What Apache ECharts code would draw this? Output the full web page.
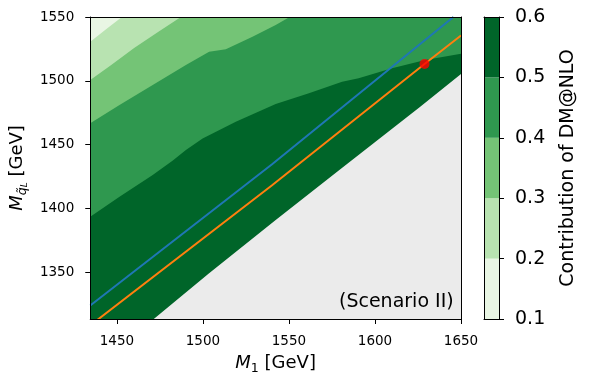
<!DOCTYPE html>
<html>
<head>
<meta charset="utf-8">
<script src="https://cdn.jsdelivr.net/npm/echarts@6/dist/echarts.min.js"></script>
<style>
  html, body { margin: 0; padding: 0; background: #fff; }
  #chart { width: 589px; height: 383px; }
</style>
</head>
<body>
<div id="chart"></div>
<script>
// axis ranges and tick labels
const xRange = [1434.5, 1650];
const yRange = [1313.4, 1550];
const xTicks = [1450, 1500, 1550, 1600, 1650];
const yTicks = [1350, 1400, 1450, 1500, 1550];
const levels = [0.1, 0.2, 0.3, 0.4, 0.5, 0.6];

// contour boundaries [M1, Mq] (area above each line belongs to lower levels)
const edgeKin = [[1434.5, 1274], [1471.6, 1313.6], [1503.4, 1349.1], [1542.3, 1390.9], [1578, 1428.8], [1626.3, 1479.7], [1650, 1505.3]];
const edge05 = [[1434.5, 1393.5], [1451.5, 1409.2], [1470.8, 1426.2], [1482.5, 1437.5], [1490.1, 1445.8], [1499.8, 1454.9], [1519.1, 1468.0], [1542.3, 1481.8], [1561.6, 1490.2], [1580.9, 1499.3], [1590.5, 1502.0], [1609.9, 1509.8], [1629.2, 1516.3], [1650, 1521.2]];
const edge04 = [[1434.5, 1466.7], [1451.5, 1481.0], [1470.8, 1496.7], [1490.1, 1512.4], [1503.6, 1522.8], [1513.3, 1524.7], [1528.8, 1534.6], [1542.3, 1543.7], [1550.4, 1550]];
const edge03 = [[1434.5, 1500.6], [1446.7, 1512.4], [1460.0, 1525.7], [1473.9, 1538.2], [1487.2, 1550]];
const edge02 = [[1434.5, 1530.6], [1443.5, 1540.2], [1452.9, 1550]];

// reference lines and benchmark point
const blueLine = [[1434.5, 1324], [1540, 1434.5], [1645.6, 1550]];
const orangeLine = [[1434.5, 1308.4], [1540, 1418], [1628.8, 1513.2], [1650, 1535.5]];
const benchmark = [[1628.8, 1513.2]];

const bandColors = ['#e9f6e4', '#b8e3b1', '#74c476', '#2f984f', '#006529'];
const font = 'DejaVu Sans';

const chart = echarts.init(document.getElementById('chart'), null, { renderer: 'canvas' });

function band(data, color) {
  return {
    type: 'line', xAxisIndex: 0, yAxisIndex: 0, data: data,
    showSymbol: false, symbol: 'none', silent: true,
    lineStyle: { width: 0 },
    areaStyle: { color: color, opacity: 1, origin: 'end' }
  };
}

const spine = { onZero: false, lineStyle: { color: '#000', width: 1 } };
const tickStyle = { lineStyle: { color: '#000', width: 1 } };
const plain = (v) => String(v);

const option = {
  animation: false,
  backgroundColor: '#fff',
  grid: [
    { left: 89, top: 17, width: 372, height: 302, show: true, backgroundColor: '#ebebeb', borderWidth: 0 },
    { left: 484, top: 17, width: 15, height: 302, show: false }
  ],
  xAxis: [
    {
      gridIndex: 0, type: 'value', min: xRange[0], max: xRange[1], position: 'bottom', z: 10,
      axisLine: spine,
      axisTick: Object.assign({ customValues: xTicks, length: 5 }, tickStyle),
      axisLabel: { customValues: xTicks, color: '#000', fontSize: 13.5, fontFamily: font, margin: 15, formatter: plain },
      splitLine: { show: false },
      name: '{m|M}{s|1}{g| [GeV]}', nameLocation: 'middle', nameGap: 32,
      nameTextStyle: {
        color: '#000', fontFamily: font, fontSize: 18,
        rich: {
          m: { fontSize: 18, fontFamily: font, fontStyle: 'italic', lineHeight: 24, color: '#000' },
          s: { fontSize: 12.6, fontFamily: font, lineHeight: 14, verticalAlign: 'bottom', color: '#000' },
          g: { fontSize: 18, fontFamily: font, lineHeight: 24, color: '#000' }
        }
      }
    },
    {
      gridIndex: 0, type: 'value', min: xRange[0], max: xRange[1], position: 'top', z: 10,
      axisLine: spine, axisTick: { show: false }, axisLabel: { show: false }, splitLine: { show: false }
    },
    {
      gridIndex: 1, type: 'value', min: 0, max: 1, position: 'bottom', z: 10,
      axisLine: spine, axisTick: { show: false }, axisLabel: { show: false }, splitLine: { show: false }
    },
    {
      gridIndex: 1, type: 'value', min: 0, max: 1, position: 'top', z: 10,
      axisLine: spine, axisTick: { show: false }, axisLabel: { show: false }, splitLine: { show: false }
    }
  ],
  yAxis: [
    {
      gridIndex: 0, type: 'value', min: yRange[0], max: yRange[1], position: 'left', z: 10,
      axisLine: spine,
      axisTick: Object.assign({ customValues: yTicks, length: 5 }, tickStyle),
      axisLabel: { customValues: yTicks, color: '#000', fontSize: 13.5, fontFamily: font, margin: 16, formatter: plain },
      splitLine: { show: false },
      name: '{m|M}{s|q̃}{t|L}{g| [GeV]}', nameLocation: 'middle', nameGap: 56, nameRotate: 90,
      nameTextStyle: {
        color: '#000', fontFamily: font, fontSize: 18,
        rich: {
          m: { fontSize: 18, fontFamily: font, fontStyle: 'italic', lineHeight: 24, color: '#000' },
          s: { fontSize: 12.6, fontFamily: font, fontStyle: 'italic', lineHeight: 14, verticalAlign: 'bottom', color: '#000' },
          t: { fontSize: 9, fontFamily: font, fontStyle: 'italic', lineHeight: 9, verticalAlign: 'bottom', color: '#000' },
          g: { fontSize: 18, fontFamily: font, lineHeight: 24, color: '#000' }
        }
      }
    },
    {
      gridIndex: 0, type: 'value', min: yRange[0], max: yRange[1], position: 'right', z: 10,
      axisLine: spine, axisTick: { show: false }, axisLabel: { show: false }, splitLine: { show: false }
    },
    {
      gridIndex: 1, type: 'value', min: levels[0], max: levels[levels.length - 1], position: 'left', z: 10,
      axisLine: spine, axisTick: { show: false }, axisLabel: { show: false }, splitLine: { show: false }
    },
    {
      gridIndex: 1, type: 'value', min: levels[0], max: levels[levels.length - 1], position: 'right', z: 10,
      axisLine: spine,
      axisTick: Object.assign({ customValues: levels, length: 5 }, tickStyle),
      axisLabel: {
        customValues: levels, color: '#000', fontSize: 19, fontFamily: font, margin: 16,
        formatter: (v) => v.toFixed(1)
      },
      splitLine: { show: false },
      name: 'Contribution of DM@NLO', nameLocation: 'middle', nameRotate: 90, nameGap: 60,
      nameTextStyle: { color: '#000', fontFamily: font, fontSize: 19 }
    }
  ],
  graphic: [
    {
      type: 'text', left: 339, top: 293, z: 20,
      style: { text: '(Scenario II)', font: '19px "DejaVu Sans"', fill: '#000' }
    }
  ],
  series: [
    band(edgeKin, bandColors[4]),
    band(edge05, bandColors[3]),
    band(edge04, bandColors[2]),
    band(edge03, bandColors[1]),
    band(edge02, bandColors[0]),
    {
      type: 'line', xAxisIndex: 0, yAxisIndex: 0, data: blueLine,
      showSymbol: false, symbol: 'none', silent: true,
      lineStyle: { color: '#1f77b4', width: 2 }
    },
    {
      type: 'line', xAxisIndex: 0, yAxisIndex: 0, data: orangeLine,
      showSymbol: false, symbol: 'none', silent: true,
      lineStyle: { color: '#ff7f0e', width: 2 }
    },
    {
      type: 'scatter', xAxisIndex: 0, yAxisIndex: 0, data: benchmark,
      symbolSize: 10, silent: true, z: 5,
      itemStyle: { color: '#ff0000' }
    },
    {
      // colour bar: one rectangle per contour level interval
      type: 'custom', xAxisIndex: 2, yAxisIndex: 2, silent: true,
      data: levels.slice(0, -1).map((lo, i) => [lo, levels[i + 1], i]),
      renderItem: (params, api) => {
        const p0 = api.coord([0, api.value(1)]);
        const p1 = api.coord([1, api.value(0)]);
        return {
          type: 'rect',
          shape: { x: p0[0], y: p0[1], width: p1[0] - p0[0], height: p1[1] - p0[1] },
          style: { fill: bandColors[api.value(2)] }
        };
      }
    }
  ]
};

chart.setOption(option);
</script>
</body>
</html>
